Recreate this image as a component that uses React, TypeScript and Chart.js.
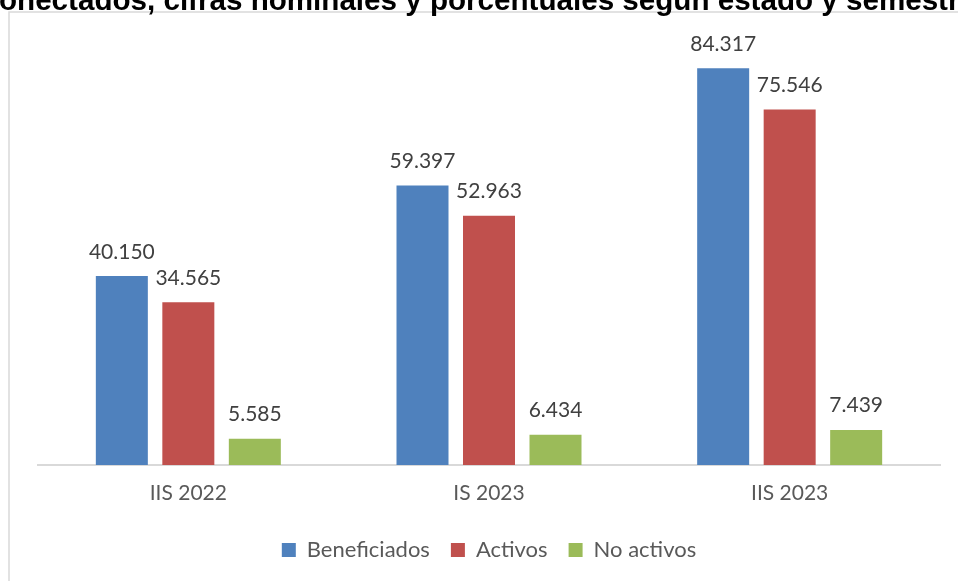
import React, { useEffect, useRef } from "react";
import { Chart, registerables } from "chart.js";

Chart.register(...registerables);

const categories = ["IIS 2022", "IS 2023", "IIS 2023"];
const seriesNames = ["Beneficiados", "Activos", "No activos"];
const beneficiados = [40150, 59397, 84317];
const activos = [34565, 52963, 75546];
const noActivos = [5585, 6434, 7439];
const seriesColors = ["#4F81BD", "#C0504D", "#9BBB59"];
const titleText = "onectados, cifras nominales y porcentuales según estado y semestre";

const FONT = "Lato, 'Open Sans', sans-serif";

const fmt = (v: number) => String(v).replace(/\B(?=(\d{3})+(?!\d))/g, ".");

const framePlugin = {
  id: "frame",
  beforeDraw(chart: any) {
    const ctx = chart.ctx;
    ctx.save();
    ctx.strokeStyle = "#d9d9d9";
    ctx.lineWidth = 1.5;
    ctx.beginPath();
    ctx.moveTo(9, 600);
    ctx.lineTo(9, 12);
    ctx.lineTo(980, 12);
    ctx.stroke();
    ctx.fillStyle = "#000000";
    ctx.font = "bold 29.6px 'Liberation Sans', Arial, sans-serif";
    ctx.textAlign = "left";
    ctx.textBaseline = "alphabetic";
    ctx.fillText(titleText, -1, 10);
    ctx.restore();
  },
};

const valueLabelPlugin = {
  id: "valueLabels",
  afterDatasetsDraw(chart: any) {
    const ctx = chart.ctx;
    ctx.save();
    ctx.fillStyle = "#404040";
    ctx.font = `21px ${FONT}`;
    ctx.textAlign = "center";
    ctx.textBaseline = "alphabetic";
    chart.data.datasets.forEach((ds: any, di: number) => {
      const meta = chart.getDatasetMeta(di);
      meta.data.forEach((bar: any, i: number) => {
        ctx.fillText(fmt(ds.data[i]), bar.x, bar.y - 17.5);
      });
    });
    ctx.restore();
  },
};

export default function App() {
  const ref = useRef<HTMLCanvasElement | null>(null);
  useEffect(() => {
    if (!ref.current) return;
    const data = [beneficiados, activos, noActivos];
    const chart = new Chart(ref.current, {
      type: "bar",
      data: {
        labels: categories,
        datasets: seriesNames.map((name, i) => ({
          label: name,
          data: data[i],
          backgroundColor: seriesColors[i],
          borderWidth: 0,
          categoryPercentage: 0.6635,
          barPercentage: 0.782,
        })),
      },
      options: {
        responsive: false,
        animation: false,
        layout: { padding: { top: 41.5, left: 38, right: 18, bottom: 10 } },
        scales: {
          x: {
            grid: {
              display: true,
              drawOnChartArea: false,
              drawTicks: true,
              tickLength: 4.2,
              color: "rgba(0,0,0,0)",
            },
            border: { display: true, color: "#d9d9d9", width: 2 },
            ticks: { color: "#595959", font: { family: FONT, size: 21 }, padding: 11.8 },
          },
          y: { display: false, min: 0, max: 90000 },
        },
        plugins: {
          legend: {
            position: "bottom",
            labels: {
              boxWidth: 14,
              boxHeight: 14,
              padding: 21,
              color: "#595959",
              font: { family: FONT, size: 22 },
            },
          },
          tooltip: { enabled: false },
          title: { display: false },
        },
      },
      plugins: [framePlugin, valueLabelPlugin],
    });
    return () => chart.destroy();
  }, []);
  return (
    <div style={{ position: "absolute", left: 0, top: 0, width: 958, height: 581 }}>
      <canvas ref={ref} width={958} height={581} style={{ display: "block" }} />
    </div>
  );
}
